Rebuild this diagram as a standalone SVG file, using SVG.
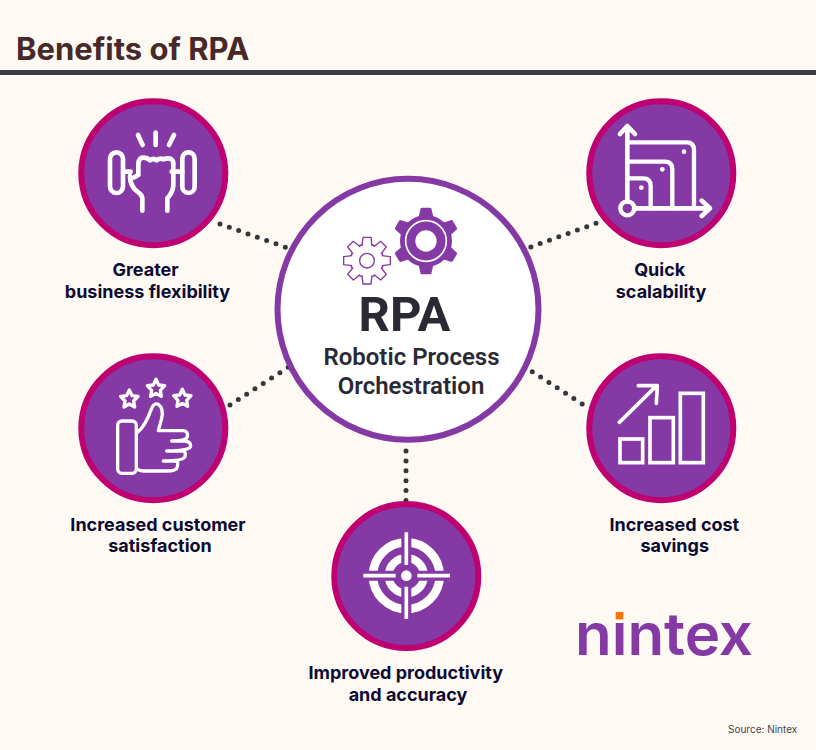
<svg xmlns="http://www.w3.org/2000/svg" width="816" height="750" viewBox="0 0 816 750">
<style>
.lbl{font-family:"Inter","Liberation Sans",sans-serif;font-weight:700;font-size:18px;fill:#0b0b33;text-anchor:middle}
.ring{fill:#8439a4;stroke:#bf0071;stroke-width:6}
.ic{fill:none;stroke:#fff;stroke-linecap:round;stroke-linejoin:round}
.dots{fill:none;stroke:#34363c;stroke-width:5;stroke-linecap:round;stroke-dasharray:0 9.9}
.center{font-family:"Roboto","Liberation Sans",sans-serif;fill:#2a2a35;text-anchor:middle}
</style>
<defs>
<path id="tb" d="M-22 -72 L-16 -98 Q-15 -100 -12 -100 L12 -100 Q15 -100 16 -98 L22 -72 Z" fill="#8439a4"/>
<path id="ts" d="M-15 -44 L-12 -70 L12 -70 L15 -44" fill="#fff" stroke="#8439a4" stroke-width="4" stroke-linejoin="round"/>
<path id="star" d="M0 -27 L8 -10 L26 -8 L13 6 L16 24 L0 15 L-16 24 L-13 6 L-26 -8 L-8 -10 Z" fill="none" stroke="#fff" stroke-width="10" stroke-linejoin="round"/>
</defs>
<rect width="816" height="750" fill="#fef9f3"/>
<text x="16" y="60" font-family="Inter, 'Liberation Sans', sans-serif" font-size="31" font-weight="700" fill="#47292a">Benefits of RPA</text>
<rect x="0" y="70" width="816" height="5" fill="#3a3d44"/>
<g id="connectors">
<path class="dots" d="M220 224L286 247.4"/>
<path class="dots" d="M596 223.3L530 247.3"/>
<path class="dots" d="M230 405L288.3 367.3"/>
<path class="dots" d="M532.3 371.7L583 404.5"/>
<path class="dots" d="M406 451V501"/>
</g>
<g id="node-flexibility">
<circle class="ring" cx="153.3" cy="173.3" r="72"/>
<g transform="translate(60 90) scale(.3333)" class="ic" stroke-width="14">
<path d="M234 135L248 165M287 128V165M342 135L327 165"/>
<rect x="150" y="187" width="39" height="122" rx="19.5"/>
<rect x="367" y="187" width="37" height="122" rx="18.5"/>
<path d="M190 245H212M335 245H367"/>
<path d="M247 362V325Q247 315 235 307Q210 290 210 258M222 262L235 255V225Q235 203 250 203Q262 203 270 211Q280 203 290 211Q300 203 310 208Q340 198 340 222V285Q340 305 322 325V362"/>
</g>
<text class="lbl" x="145.5" y="275.7">Greater</text>
<text class="lbl" x="147.5" y="297.7">business flexibility</text>
</g>
<g id="node-scalability">
<circle class="ring" cx="661.3" cy="173.3" r="72"/>
<g transform="translate(520 90) scale(.3333)" class="ic" stroke-width="13">
<path stroke-width="14" d="M322 112V335M300 132L322 108L345 132M342 355H568M545 332L570 355L545 378"/>
<circle cx="322" cy="355" r="21"/>
<path d="M322 157H500Q522 157 522 180V355M322 215H435Q457 215 457 238V355M322 265H370Q392 265 392 288V355"/>
<circle cx="492" cy="185" r="7" fill="#fff" stroke="none"/>
<circle cx="427" cy="238" r="7" fill="#fff" stroke="none"/>
<circle cx="364" cy="293" r="7" fill="#fff" stroke="none"/>
</g>
<text class="lbl" x="659.7" y="275.7">Quick</text>
<text class="lbl" x="661" y="297.7">scalability</text>
</g>
<g id="node-satisfaction">
<circle class="ring" cx="153.3" cy="428.3" r="72"/>
<g transform="translate(60 345) scale(.3333)" class="ic" stroke-width="10">
<use href="#star" x="208" y="162"/>
<use href="#star" x="288" y="130"/>
<use href="#star" x="367" y="160"/>
<rect x="173" y="228" width="56" height="157" rx="13"/>
<path d="M232 262Q255 245 275 190Q283 172 295 178Q312 190 305 220L295 257H370Q385 258 382 275Q380 288 335 288H375Q392 290 392 303Q392 318 320 318H370Q378 320 375 335Q370 348 310 348H345Q357 350 352 365Q350 378 320 378H250Q238 378 232 372"/>
</g>
<text class="lbl" x="158" y="530.7">Increased customer</text>
<text class="lbl" x="160" y="551.7">satisfaction</text>
</g>
<g id="node-savings">
<circle class="ring" cx="661.3" cy="428.3" r="72"/>
<g transform="translate(520 345) scale(.3333)" class="ic" stroke-width="11">
<path d="M298 232L410 122M355 122H412L409 175"/>
<g stroke-linejoin="miter">
<rect x="300" y="282" width="68" height="71"/>
<rect x="390" y="218" width="70" height="135"/>
<rect x="481" y="145" width="69" height="208"/>
</g>
</g>
<text class="lbl" x="674.3" y="530.7">Increased cost</text>
<text class="lbl" x="674.7" y="552">savings</text>
</g>
<g id="node-productivity">
<circle class="ring" cx="406.3" cy="576" r="72"/>
<g transform="translate(300 440) scale(.3333)">
<circle cx="319" cy="407" r="100" fill="none" stroke="#fff" stroke-width="26"/>
<circle cx="319" cy="407" r="53" fill="none" stroke="#fff" stroke-width="24"/>
<path d="M319 280V534M192 407H446" stroke="#8439a4" stroke-width="30" fill="none"/>
<path d="M319 277V375M319 440V537M190 407H287M352 407H450" stroke="#fff" stroke-width="11" fill="none"/>
<circle cx="319" cy="407" r="16" fill="#fff"/>
</g>
<text class="lbl" x="405.8" y="679">Improved productivity</text>
<text class="lbl" x="408" y="701">and accuracy</text>
</g>
<g id="node-rpa">
<circle cx="408" cy="309.3" r="130.5" fill="#fff" stroke="#8439a4" stroke-width="6"/>
<g id="gear-large" transform="translate(270 170) scale(.3333) translate(468 213)">
<circle r="78" fill="#8439a4"/>
<use href="#tb"/><use href="#tb" transform="rotate(60)"/><use href="#tb" transform="rotate(120)"/><use href="#tb" transform="rotate(180)"/><use href="#tb" transform="rotate(240)"/><use href="#tb" transform="rotate(300)"/>
<circle r="61" fill="none" stroke="#fff" stroke-width="5"/>
<circle r="32" fill="#fff"/>
</g>
<g id="gear-small" transform="translate(270 170) scale(.3333) translate(291 272)">
<circle r="50" fill="#fff" stroke="#8439a4" stroke-width="4"/>
<use href="#ts"/><use href="#ts" transform="rotate(45)"/><use href="#ts" transform="rotate(90)"/><use href="#ts" transform="rotate(135)"/><use href="#ts" transform="rotate(180)"/><use href="#ts" transform="rotate(225)"/><use href="#ts" transform="rotate(270)"/><use href="#ts" transform="rotate(315)"/>
<circle r="43" fill="#fff"/>
<circle r="22" fill="#fff" stroke="#8439a4" stroke-width="4"/>
</g>
<text class="center" x="404.5" y="330.7" font-size="49" font-weight="700">RPA</text>
<text class="center" x="411.5" y="365" font-size="24" font-weight="600">Robotic Process</text>
<text class="center" x="411" y="394" font-size="24" font-weight="600">Orchestration</text>
</g>
<g id="logo">
<text x="575" y="655" font-family="Inter, 'Liberation Sans', sans-serif" font-size="58" font-weight="600" fill="#8439a4" textLength="178" lengthAdjust="spacingAndGlyphs">nintex</text>
<rect x="610" y="604" width="20" height="17" fill="#fef9f3"/>
<rect x="615.7" y="612" width="7.6" height="7.4" fill="#ff7300"/>
</g>
<text x="728" y="733" font-family="Inter, 'Liberation Sans', sans-serif" font-size="10" fill="#44444c">Source: Nintex</text>
</svg>
